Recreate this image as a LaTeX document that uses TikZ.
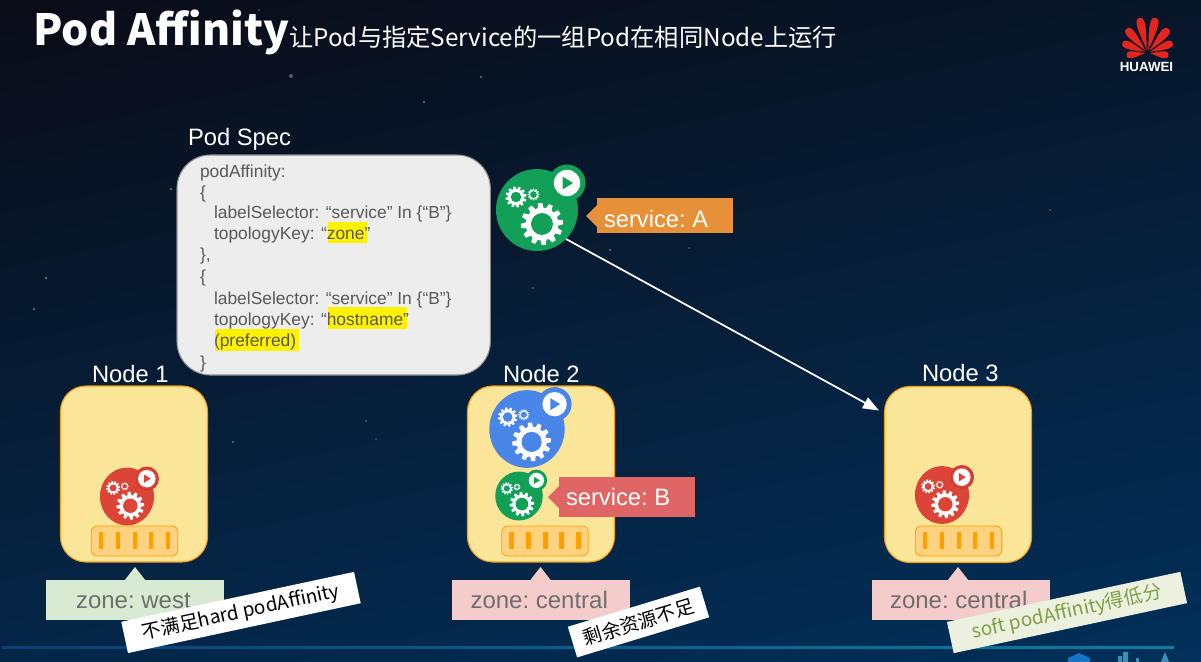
\documentclass[tikz,border=0pt]{standalone}
\usepackage{fontspec}
\usetikzlibrary{arrows.meta,shapes.geometric,calc}
\setmainfont{Liberation Sans}
\newfontfamily\cjk{Noto Sans CJK SC}
\definecolor{bgtop}{HTML}{0A0C17}
\definecolor{bgmid}{HTML}{061A33}
\definecolor{bgbot}{HTML}{02305A}
\definecolor{podgreen}{HTML}{12A058}
\definecolor{podblue}{HTML}{4A86E8}
\definecolor{podred}{HTML}{DB4437}
\definecolor{boxfill}{HTML}{FBE599}
\definecolor{boxline}{HTML}{F39C12}
\definecolor{diskfill}{HTML}{FFD27F}
\definecolor{diskbar}{HTML}{FF9F00}
\definecolor{labgrey}{HTML}{6E6E6E}
\definecolor{codegrey}{HTML}{595959}
\definecolor{specfill}{HTML}{EDEDED}
\definecolor{zonegreen}{HTML}{D9EAD3}
\definecolor{zonepink}{HTML}{F4CCCC}
\definecolor{svcA}{HTML}{E69138}
\definecolor{svcB}{HTML}{E06666}
\definecolor{softfill}{HTML}{EBF1DE}
\definecolor{softtext}{HTML}{7F9F45}
\definecolor{hwred}{HTML}{E5261F}
\definecolor{ruleL}{HTML}{0A3F7A}
\definecolor{ruleR}{HTML}{0A7F9F}
\tikzset{
  whitelabel/.style={text=white,font=\fontsize{17.8pt}{20pt}\selectfont,anchor=base west,inner sep=0pt,outer sep=0pt},
  zonetext/.style={text=labgrey,font=\fontsize{18pt}{20pt}\selectfont,anchor=base west,inner sep=0pt,outer sep=0pt},
  codetext/.style={text=codegrey,font=\fontsize{13.05pt}{15pt}\selectfont,anchor=base west,inner sep=0pt,outer sep=0pt},
  nodebox/.style={draw=boxline,line width=0.8pt,fill=boxfill,rounded corners=19pt,minimum width=110.25pt,minimum height=132pt,inner sep=0pt,outer sep=0pt},
  diskbox/.style={draw=diskbar!80!boxline,line width=0.6pt,fill=diskfill,rounded corners=4.5pt,minimum width=65pt,minimum height=22.5pt,inner sep=0pt,outer sep=0pt},
  notebox/.style={minimum height=24pt,inner sep=0pt,outer sep=0pt,font=\cjk\fontsize{14.3pt}{16pt}\selectfont,text=black,fill=white},
  hilite/.style={fill=yellow},
  stardot/.style={fill=white,opacity=0.3},
}
\newcommand{\gearicon}[6]{%
  \fill[white] (#1,#2) circle (#3*0.78);
  \foreach \a in {0,30,...,330}{%
    \fill[white,shift={(#1,#2)},rotate=\a+#5] (-0.15*#3,0.7*#3) -- (-0.1*#3,#3) -- (0.1*#3,#3) -- (0.15*#3,0.7*#3) -- cycle;}
  \fill[#4] (#1,#2) circle (#3*#6);
}
\newcommand{\podicon}[6]{%
  \begin{scope}[shift={(#2,#3)},scale=#4]
    \fill[#5] (0,0) ellipse (41 and 41*#6);
    \fill[#5] (30,-27) circle (18.5);
    \fill[white] (30,-27) circle (13.2);
    \fill[#5] (25.5,-33.5) -- (36,-27) -- (25.5,-20.5) -- cycle;
    \gearicon{-21}{-13}{10.5}{#5}{10}{0.5}
    \gearicon{-3.5}{-15.5}{5.8}{#5}{0}{0.58}
    \gearicon{5}{14}{21}{#5}{5}{0.52}
  \end{scope}
  \pgfmathsetmacro{\podsize}{61.5*#4}
  \node[circle,minimum size=\podsize pt,inner sep=0pt,outer sep=0pt] (#1) at (#2,#3) {};
}
\newcommand{\diskicon}[6]{%
  \node[diskbox] (#1) at (#2,#3) {};
  \foreach \b in {-2,-1,0,1,2}{%
    \fill[diskbar] ({#2+\b*#4-#5/2},{532+#6}) rectangle ({#2+\b*#4+#5/2},{549+#6});}
}
\newcommand{\zonelabel}[4]{%
  \fill[#4] ({#3-10.5},580.5) -- (#3,567) -- ({#3+10.5},580.5) -- cycle;
  \node[fill=#4,minimum width=133.5pt,minimum height=30pt,inner sep=0pt,outer sep=0pt,anchor=north west] (#1) at (#2,580) {};
}
\begin{document}
\begin{tikzpicture}[x=0.75pt,y=-0.75pt]
\useasboundingbox (0,0) rectangle (1201,661);
% background
\shade[shading=axis,top color=bgtop,middle color=bgmid,bottom color=bgbot,shading angle=12] (-120,-60) rectangle (1321,721);
\clip (0,0) rectangle (1201,661);
\foreach \sx/\sy/\sr in {259/10/1,481/77/1.3,291/76/2,424/102/1.4,171/189/1.5,46/278/1.7,34/309/1.5,73/426/1.7,366/421/1,376/439/.9,233/442/1.3,533/288/1.2,610/250/1.4,689/248/1,795/40/1,1050/210/1}{
  \fill[stardot] (\sx,\sy) circle (\sr);}
% bottom rule
\shade[left color=ruleL,right color=ruleR,shading angle=90] (2,646.8) rectangle (1174,648.2);
% bottom-right fragments
\fill[cyan!55!blue] (1079,653) -- (1090,658) -- (1090,664) -- (1068,664) -- (1068,658) -- cycle;
\fill[cyan!70!black] (1118,656) rectangle (1122,664) (1123,652) rectangle (1128,664) (1136,658) rectangle (1139,664);
\fill[cyan!70!black] (1160,664) -- (1165,652) -- (1170,664) -- cycle;
% title
\node[text=white,font=\cjk\bfseries\fontsize{32.2pt}{36pt}\selectfont,anchor=base west,inner sep=0pt] (title) at (33,45) {Pod Affinity};
\node[text=white,font=\cjk\fontsize{18.2pt}{20pt}\selectfont,anchor=base west,inner sep=0pt] (subtitle) at (289,46) {让Pod与指定Service的一组Pod在相同Node上运行};
% Huawei logo
\begin{scope}[shift={(1147.5,53)}]
  \foreach \ang/\len/\wid in {-96/21/5,96/21/5,-68/27/5.5,68/27/5.5,-41/32/6,41/32/6,-13/36/6,13/36/6}{
    \fill[hwred,rotate=\ang] (0,-3) .. controls (-\wid*0.3,-\len*0.4) and (-\wid*1.4,-\len*1.02) .. (0,-\len) .. controls (\wid*1.4,-\len*1.02) and (\wid*0.3,-\len*0.4) .. (0,-3) -- cycle;}
\end{scope}
\node[text=white,font=\bfseries\fontsize{10pt}{11pt}\selectfont,anchor=base,inner sep=0pt] (huawei) at (1146.5,71) {HUAWEI};
% Pod spec
\node[whitelabel] (speclabel) at (188,145) {Pod Spec};
\node[draw=black!45,line width=0.8pt,fill=specfill,rounded corners=25pt,minimum width=235pt,minimum height=165pt,inner sep=0pt,outer sep=0pt,anchor=north west] (specbox) at (177,155) {};
\fill[hilite] (327.5,222) rectangle (367,243);
\fill[hilite] (327.5,307) rectangle (407,329);
\fill[hilite] (215,329) rectangle (299,351);
\node[codetext] (c1) at (200,177) {podAffinity:};
\node[codetext] (c2) at (200,198) {\{};
\node[codetext] (c3) at (214,218) {labelSelector: “service” In \{“B”\}};
\node[codetext] (c4) at (214,239) {topologyKey: “zone”};
\node[codetext] (c5) at (200,260) {\},};
\node[codetext] (c6) at (200,282) {\{};
\node[codetext] (c7) at (214,304) {labelSelector: “service” In \{“B”\}};
\node[codetext] (c8) at (214,325) {topologyKey: “hostname”};
\node[codetext] (c9) at (214,346) {(preferred)};
\node[codetext] (c10) at (200,368) {\}};
% Service A
\fill[svcA] (586,216) -- (597,205) -- (597,227) -- cycle;
\node[fill=svcA,minimum width=102pt,minimum height=26.25pt,inner sep=0pt,outer sep=0pt,anchor=north west] (svcAbox) at (597,198) {};
\node[whitelabel] (svcAtext) at (604,227) {service:\hspace{5pt}A};
\podicon{podA}{537}{210}{1}{podgreen}{1}
% Node boxes
\node[whitelabel] (n1label) at (92,382) {Node 1};
\node[whitelabel] (n2label) at (503,382) {Node 2};
\node[whitelabel] (n3label) at (922,381) {Node 3};
\node[nodebox,anchor=north west] (node1) at (60.5,386) {};
\node[nodebox,anchor=north west] (node2) at (467.5,386) {};
\node[nodebox,anchor=north west] (node3) at (884.5,386.5) {};
% Node 1 contents
\diskicon{disk1}{134.5}{541}{16.9}{4}{0}
\podicon{pod1}{127}{496.5}{0.66}{podred}{1.07}
\draw[podred!85!black,line width=0.4pt] (147,478.7) circle (11);
% Node 2 contents
\diskicon{disk2}{545}{541}{16.9}{5}{0}
\podicon{pod2}{527}{429}{0.92}{podblue}{1.03}
\podicon{pod3}{519}{496}{0.58}{podgreen}{1.03}
% Node 3 contents
\diskicon{disk3}{958.5}{541}{16.9}{4}{0}
\podicon{pod4}{942}{495}{0.66}{podred}{1.07}
\draw[podred!85!black,line width=0.4pt] (962,477.2) circle (11);
% Service B
\fill[svcB] (548,497) -- (559,486) -- (559,508) -- cycle;
\node[fill=svcB,minimum width=102pt,minimum height=30pt,inner sep=0pt,outer sep=0pt,anchor=north west] (svcBbox) at (559,477) {};
\node[whitelabel] (svcBtext) at (566,505.5) {service:\hspace{5pt}B};
% Zones
\zonelabel{zone1}{46}{135}{zonegreen}
\zonelabel{zone2}{452}{540.5}{zonepink}
\zonelabel{zone3}{872}{958}{zonepink}
\node[zonetext] (z1text) at (76,608) {zone:\hspace{5pt}west};
\node[zonetext] (z2text) at (470.5,608) {zone:\hspace{5pt}central};
\node[zonetext] (z3text) at (890,608) {zone:\hspace{5pt}central};
% Notes
\node[notebox,rotate=12.1,minimum width=178.5pt] (note1) at (241,612.5) {不满足hard podAffinity};
\node[notebox,rotate=16.9,minimum width=103.5pt] (note2) at (638.5,622) {剩余资源不足};
\node[notebox,rotate=12.1,minimum width=179pt,fill=softfill,text=softtext] (note3) at (1067,612.5) {soft podAffinity得低分};
% Arrow
\coordinate (n3in) at (879,410.5);
\draw[white,line width=1.3pt,-{Triangle[length=12pt,width=9pt]}] (podA.-45) -- (n3in);
\end{tikzpicture}
\end{document}
